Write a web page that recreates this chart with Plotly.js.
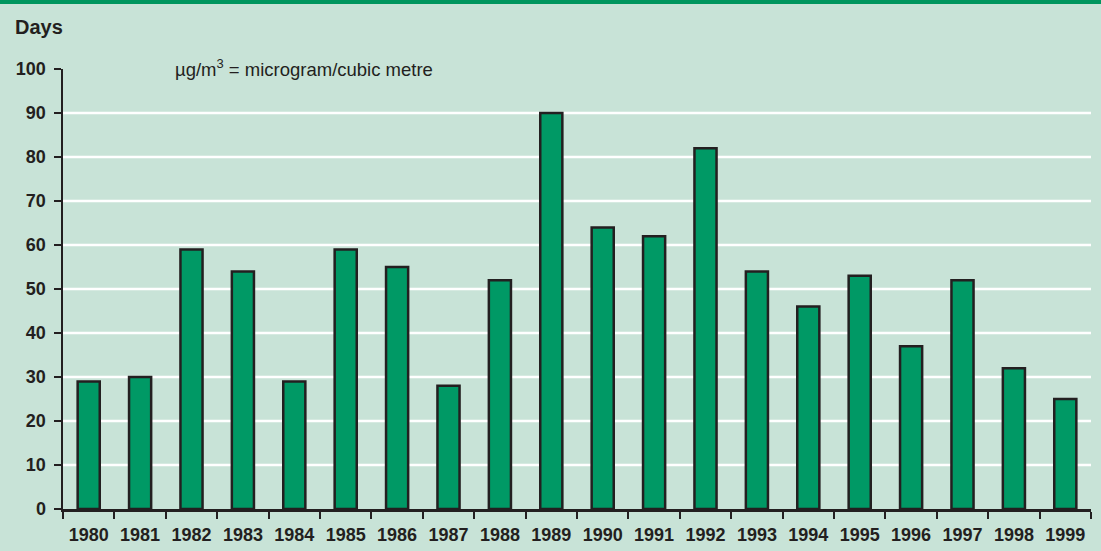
<!DOCTYPE html>
<html><head><meta charset="utf-8">
<script src="https://cdn.plot.ly/plotly-3.0.1.min.js"></script>
<style>html,body{margin:0;padding:0;background:#c8e3d7;}</style>
</head><body>
<div id="chart" style="width:1101px;height:551px;"></div>
<script>
const years = ["1980","1981","1982","1983","1984","1985","1986","1987","1988","1989","1990","1991","1992","1993","1994","1995","1996","1997","1998","1999"];
const days = [29,30,59,54,29,59,55,28,52,90,64,62,82,54,46,53,37,52,32,25];
const gridValues = [10,20,30,40,50,60,70,80,90];
const yTicks = [0,10,20,30,40,50,60,70,80,90,100];

const H = 551, mt = 69, mb = 42;
const ph = H - mt - mb;
const FONT = '"Liberation Sans", Arial, sans-serif';

const shapes = gridValues.map(v => ({
  type:'line', xref:'paper', yref:'y', x0:0, x1:1, y0:v, y1:v,
  line:{color:'#ffffff', width:2.5}, layer:'below'
}));
shapes.push({
  type:'rect', xref:'paper', yref:'paper', x0:-63/1028, x1:1+10/1028,
  y0:1+(mt-4)/ph, y1:1+mt/ph, fillcolor:'#00965e', line:{width:0}
});

const trace = {
  type:'bar', x:years, y:days,
  marker:{color:'#009965', line:{color:'#231f20', width:2.5}},
  hoverinfo:'skip'
};

const layout = {
  width:1101, height:551,
  margin:{l:63, r:10, t:mt, b:mb},
  paper_bgcolor:'#c8e3d7', plot_bgcolor:'#c8e3d7',
  bargap:0.57,
  showlegend:false,
  font:{family:FONT, color:'#231f20'},
  xaxis:{
    type:'category', tickson:'boundaries', ticks:'outside', ticklen:7, tickwidth:2, tickcolor:'#231f20',
    showline:true, linecolor:'#231f20', linewidth:2.5, showgrid:false,
    tickfont:{size:18, family:FONT, weight:'bold'}, ticklabelstandoff:8,
    zeroline:false
  },
  yaxis:{
    range:[0,100], tickvals:yTicks, ticks:'outside', ticklen:7, tickwidth:2, tickcolor:'#231f20',
    showline:true, linecolor:'#231f20', linewidth:2.5, showgrid:false, zeroline:false,
    tickfont:{size:18, family:FONT, weight:'bold'}, ticklabelstandoff:4
  },
  shapes:shapes,
  annotations:[
    {text:'<b>Days</b>', xref:'paper', yref:'paper', x:-50/1028, y:1+42/ph, xanchor:'left', yanchor:'middle',
     showarrow:false, font:{size:20, family:FONT}},
    {text:'µg/m<sup>3</sup> = microgram/cubic metre', xref:'paper', yref:'paper', x:110/1028, y:1+1/ph, xanchor:'left', yanchor:'middle',
     showarrow:false, font:{size:18.5, family:FONT}}
  ]
};

Plotly.newPlot('chart', [trace], layout, {displayModeBar:false, staticPlot:true});
</script>
</body></html>
